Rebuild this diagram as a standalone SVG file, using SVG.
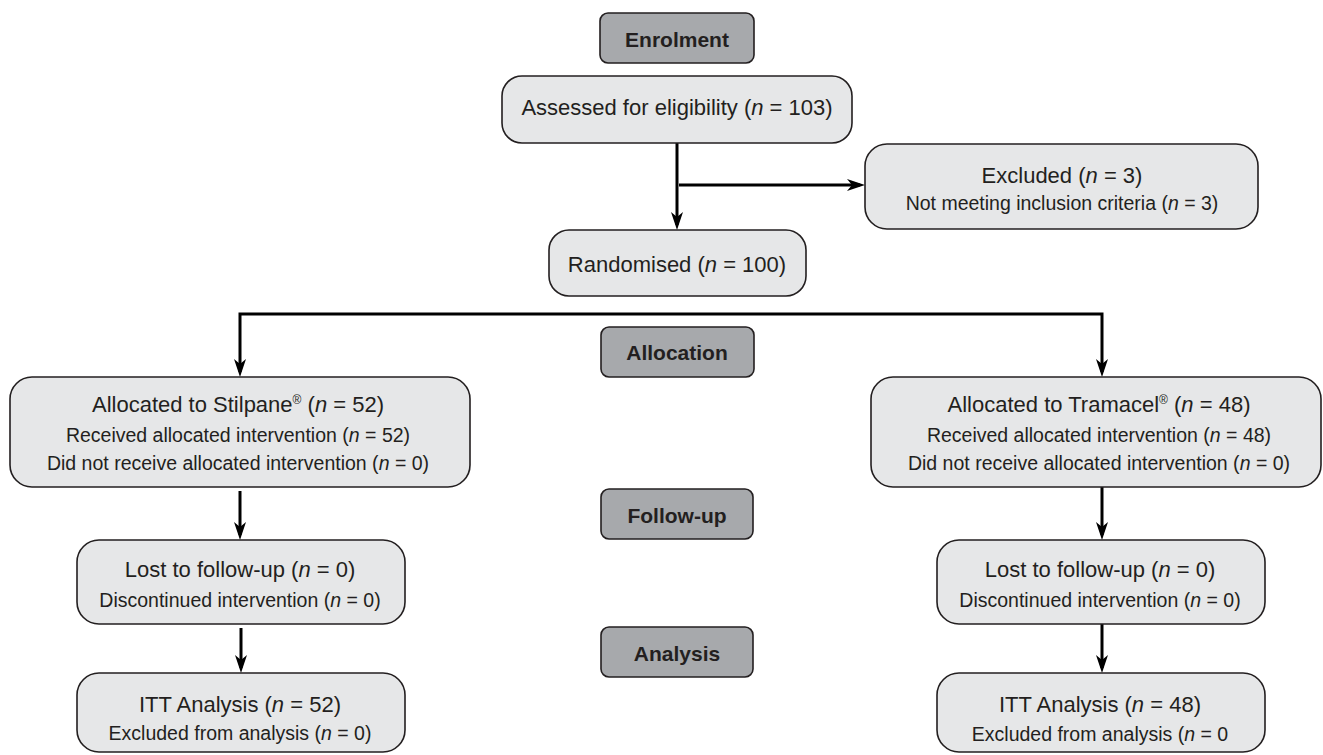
<svg xmlns="http://www.w3.org/2000/svg" width="1323" height="755" viewBox="0 0 1323 755">
<style>
.box{fill:#e6e7e8;stroke:#231f20;stroke-width:1.6}
.lab{fill:#a7a9ac;stroke:#231f20;stroke-width:1.6}
.t{font-family:"Liberation Sans",Arial,sans-serif;fill:#231f20;text-anchor:middle}
.t1{font-size:22px}
.t2{font-size:19.5px}
.tb{font-size:21px;font-weight:bold}
.i{font-style:italic}
.sup{font-size:12px}
.c{fill:none;stroke:#000;stroke-width:3;marker-end:url(#ah)}
</style>
<defs>
<marker id="ah" viewBox="0 0 18 12" refX="13" refY="6" markerWidth="18" markerHeight="12" markerUnits="userSpaceOnUse" orient="auto">
<path d="M0,0 L18,6 L0,12 L5,6 Z" fill="#000"/>
</marker>
</defs>
<g id="connectors">
<path class="c" d="M677,143 V225"/>
<path class="c" d="M679,185 H860"/>
<path class="c" d="M677,314 H240 V372"/>
<path class="c" d="M677,314 H1102 V372"/>
<path class="c" d="M240,491 V535"/>
<path class="c" d="M241,628 V668"/>
<path class="c" d="M1102,487 V535"/>
<path class="c" d="M1102,624 V668"/>
</g>
<g id="enrolment">
<rect class="lab" x="600" y="13" width="154" height="50" rx="8"/>
<text class="t tb" x="677" y="47">Enrolment</text>
</g>
<g id="assessed">
<rect class="box" x="502" y="76" width="350" height="67" rx="20"/>
<text class="t t1" x="677" y="115">Assessed for eligibility (<tspan class="i">n</tspan> = 103)</text>
</g>
<g id="excluded">
<rect class="box" x="865" y="144" width="393" height="85" rx="22"/>
<text class="t t1" x="1062" y="183">Excluded (<tspan class="i">n</tspan> = 3)</text>
<text class="t t2" x="1062" y="210">Not meeting inclusion criteria (<tspan class="i">n</tspan> = 3)</text>
</g>
<g id="randomised">
<rect class="box" x="549" y="230" width="257" height="66" rx="20"/>
<text class="t t1" x="677" y="272">Randomised (<tspan class="i">n</tspan> = 100)</text>
</g>
<g id="allocation">
<rect class="lab" x="601" y="327" width="153" height="50" rx="8"/>
<text class="t tb" x="677" y="360">Allocation</text>
</g>
<g id="stilpane">
<rect class="box" x="10" y="377" width="460" height="110" rx="22"/>
<text class="t t1" x="238" y="412">Allocated to Stilpane<tspan class="sup" dy="-8">®</tspan><tspan dy="8"> (</tspan><tspan class="i">n</tspan> = 52)</text>
<text class="t t2" x="238" y="442">Received allocated intervention (<tspan class="i">n</tspan> = 52)</text>
<text class="t t2" x="238" y="470">Did not receive allocated intervention (<tspan class="i">n</tspan> = 0)</text>
</g>
<g id="tramacel">
<rect class="box" x="871" y="377" width="450" height="110" rx="22"/>
<text class="t t1" x="1099" y="412">Allocated to Tramacel<tspan class="sup" dy="-8">®</tspan><tspan dy="8"> (</tspan><tspan class="i">n</tspan> = 48)</text>
<text class="t t2" x="1099" y="442">Received allocated intervention (<tspan class="i">n</tspan> = 48)</text>
<text class="t t2" x="1099" y="470">Did not receive allocated intervention (<tspan class="i">n</tspan> = 0)</text>
</g>
<g id="followup">
<rect class="lab" x="601" y="489" width="152" height="50" rx="8"/>
<text class="t tb" x="677" y="523">Follow-up</text>
</g>
<g id="lost-left">
<rect class="box" x="77" y="540" width="328" height="84" rx="22"/>
<text class="t t1" x="240" y="577">Lost to follow-up (<tspan class="i">n</tspan> = 0)</text>
<text class="t t2" x="240" y="607">Discontinued intervention (<tspan class="i">n</tspan> = 0)</text>
</g>
<g id="lost-right">
<rect class="box" x="937" y="540" width="328" height="84" rx="22"/>
<text class="t t1" x="1100" y="577">Lost to follow-up (<tspan class="i">n</tspan> = 0)</text>
<text class="t t2" x="1100" y="607">Discontinued intervention (<tspan class="i">n</tspan> = 0)</text>
</g>
<g id="analysis">
<rect class="lab" x="601" y="627" width="152" height="50" rx="8"/>
<text class="t tb" x="677" y="661">Analysis</text>
</g>
<g id="itt-left">
<rect class="box" x="77" y="673" width="328" height="79" rx="22"/>
<text class="t t1" x="240" y="712">ITT Analysis (<tspan class="i">n</tspan> = 52)</text>
<text class="t t2" x="240" y="740">Excluded from analysis (<tspan class="i">n</tspan> = 0)</text>
</g>
<g id="itt-right">
<rect class="box" x="937" y="673" width="328" height="79" rx="22"/>
<text class="t t1" x="1100" y="712">ITT Analysis (<tspan class="i">n</tspan> = 48)</text>
<text class="t t2" x="1100" y="741">Excluded from analysis (<tspan class="i">n</tspan> = 0</text>
</g>
</svg>
